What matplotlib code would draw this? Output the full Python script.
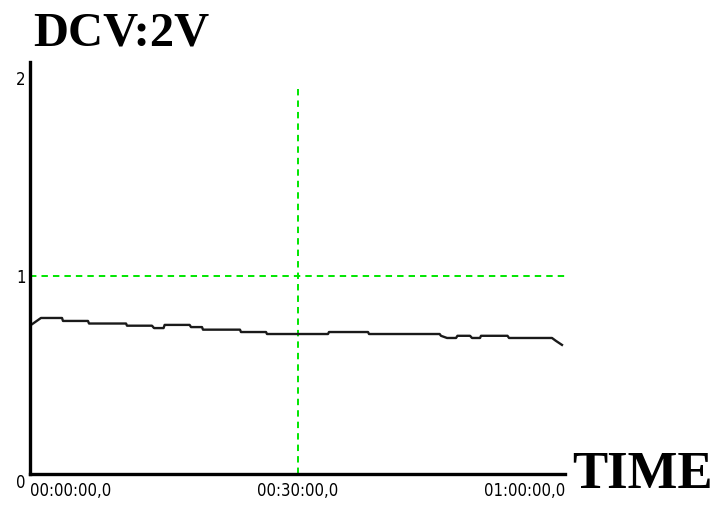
import matplotlib.pyplot as plt

# voltage trace (minutes, volts)
minutes = [0.28, 1.23, 3.59, 3.70, 6.5, 6.62, 10.77, 10.88, 13.68, 13.91, 14.98, 15.10,
           17.90, 18.06, 19.29, 19.40, 23.55, 23.66, 26.47, 26.58, 33.42, 33.53, 37.91,
           38.02, 45.94, 46.09, 46.77, 47.78, 47.94, 49.35, 49.57, 50.47, 50.58, 53.55,
           53.72, 58.54, 58.96, 59.66]
volts = [0.758, 0.788, 0.788, 0.773, 0.773, 0.760, 0.760, 0.749, 0.749, 0.737, 0.737, 0.753,
         0.753, 0.742, 0.742, 0.729, 0.729, 0.717, 0.717, 0.707, 0.707, 0.717, 0.717,
         0.707, 0.707, 0.698, 0.687, 0.687, 0.698, 0.698, 0.687, 0.687, 0.698, 0.698,
         0.687, 0.687, 0.673, 0.652]

x_ticks = [0, 30, 60]
x_labels = ['00:00:00,0', '00:30:00,0', '01:00:00,0']
y_ticks = [0, 1, 2]

fig = plt.figure(figsize=(7.16, 5.11), dpi=100)
ax = fig.add_axes([30 / 716, 1 - 474 / 511, 535 / 716, 412 / 511])

# green dashed grid marks
green = '#00e600'
ax.plot([0, 60], [1, 1], color=green, lw=1.4, ls=(0, (3.3, 2.6)))
ax.plot([30, 30], [0, 1.965], color=green, lw=1.4, ls=(0, (3.3, 2.6)))

ax.plot(minutes, volts, color='#1a1a1a', lw=1.7)

ax.set_xlim(0, 60)
ax.set_ylim(0, 412 / 198)

for s in ['top', 'right']:
    ax.spines[s].set_visible(False)
for s in ['left', 'bottom']:
    ax.spines[s].set_linewidth(2.4)
    ax.spines[s].set_color('black')

tick_font = dict(family=['Liberation Sans Narrow', 'DejaVu Sans'], stretch='condensed')
ax.set_xticks(x_ticks)
ax.set_xticklabels(x_labels, fontsize=12, **tick_font)
labels = ax.get_xticklabels()
labels[0].set_ha('left')
labels[2].set_ha('right')
ax.set_yticks(y_ticks)
ax.set_yticklabels([str(v) for v in y_ticks], fontsize=12, **tick_font)
ax.get_yticklabels()[0].set_va('top')
ax.tick_params(length=0)
ax.tick_params(axis='x', pad=6)
ax.tick_params(axis='y', pad=3)

fig.text(33 / 716, 1 - 46 / 511, 'DCV:2V', fontsize=35, fontweight='bold',
         family='Liberation Serif', ha='left', va='baseline')
fig.text(572 / 716, 1 - 488 / 511, 'TIME', fontsize=38, fontweight='bold',
         family='Liberation Serif', ha='left', va='baseline')

fig.savefig('out.png', dpi=100)
